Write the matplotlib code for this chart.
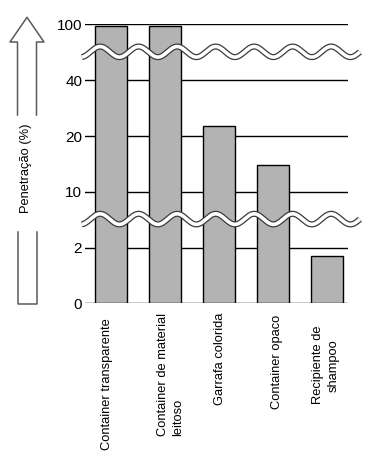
import matplotlib
matplotlib.use("Agg")
import matplotlib.pyplot as plt
from matplotlib.lines import Line2D
import numpy as np

plt.rcParams['font.family'] = ['Liberation Sans', 'DejaVu Sans']

# data
categories = ["Container transparente", "Container de material\nleitoso",
              "Garrafa colorida", "Container opaco", "Recipiente de\nshampoo"]
penetracao = [98, 98, 23.6, 14.8, 1.7]
tick_values = [0, 2, 10, 20, 40, 100]
tick_labels = ["0", "2", "10", "20", "40", "100"]
breaks = [(2, 10), (40, 100)]

W, H = 383, 469
fig = plt.figure(figsize=(W / 100, H / 100), dpi=100)


def fx(px):
    return px / W


def fy(py):
    return 1 - py / H


# broken axis: each tick interval gets the same height
def to_index(v):
    return np.interp(v, tick_values, np.arange(len(tick_values)))


ax = fig.add_axes([fx(85), fy(303.3), fx(348) - fx(85), fy(24.5) - fy(303.3)])
ax.set_xlim(-0.48, 4.39)
ax.set_ylim(0, len(tick_values) - 1)
for s in ax.spines.values():
    s.set_visible(False)

for i in range(len(tick_values)):
    ax.axhline(i, color='black', lw=1.0, zorder=1)

x = np.arange(len(categories))
ax.bar(x, to_index(penetracao), width=0.6, color='#b3b3b3',
       edgecolor='black', linewidth=1.0, zorder=2)

ax.set_yticks(np.arange(len(tick_values)))
ax.set_yticklabels(tick_labels, fontsize=11)
ax.tick_params(axis='y', length=0, pad=2)
ax.set_xticks([])

# wavy break marks
px_per_x = 54.0
xs = np.linspace(-0.54, 4.61, 400)
period = 38.5 / px_per_x
amp = 5.3 / 55.76
for lo, hi in breaks:
    yc = (to_index(lo) + to_index(hi)) / 2 + 0.01
    ys = yc + amp * np.cos(2 * np.pi * (xs - (-0.20)) / period)
    ax.plot(xs, ys, color='#3a3a3a', lw=4.4, clip_on=False, zorder=5,
            solid_capstyle='butt')
    ax.plot(xs, ys, color='white', lw=2.6, clip_on=False, zorder=6,
            solid_capstyle='butt')

# category labels (rotated)
label_dx = [-0.07, 0.11, 0.02, 0.08, -0.02]
label_top = [318, 313, 313, 315, 326]
label_align = ['left', 'left', 'left', 'left', 'center']
for i, lab in enumerate(categories):
    fig.text(fx(85 + (i + label_dx[i] + 0.48) * px_per_x), fy(label_top[i]), lab,
             rotation=90, ha='center', va='top', fontsize=9.3,
             multialignment=label_align[i], linespacing=1.32)

# hollow arrow + y label
arrow_col = '#5a5a5a'
top_pts = [(17.5, 115), (17.5, 42), (10, 42), (27, 17.3), (44, 42),
           (36.5, 42), (36.5, 115)]
bot_pts = [(17.5, 232), (17.5, 304), (36.5, 304), (36.5, 232)]
for pts in (top_pts, bot_pts):
    fig.add_artist(Line2D([fx(p[0]) for p in pts], [fy(p[1]) for p in pts],
                          color=arrow_col, lw=1.1, transform=fig.transFigure))
fig.text(fx(26), fy(168), "Penetração (%)", rotation=90, ha='center',
         va='center', fontsize=9.3)

fig.savefig("out.png", dpi=100)
